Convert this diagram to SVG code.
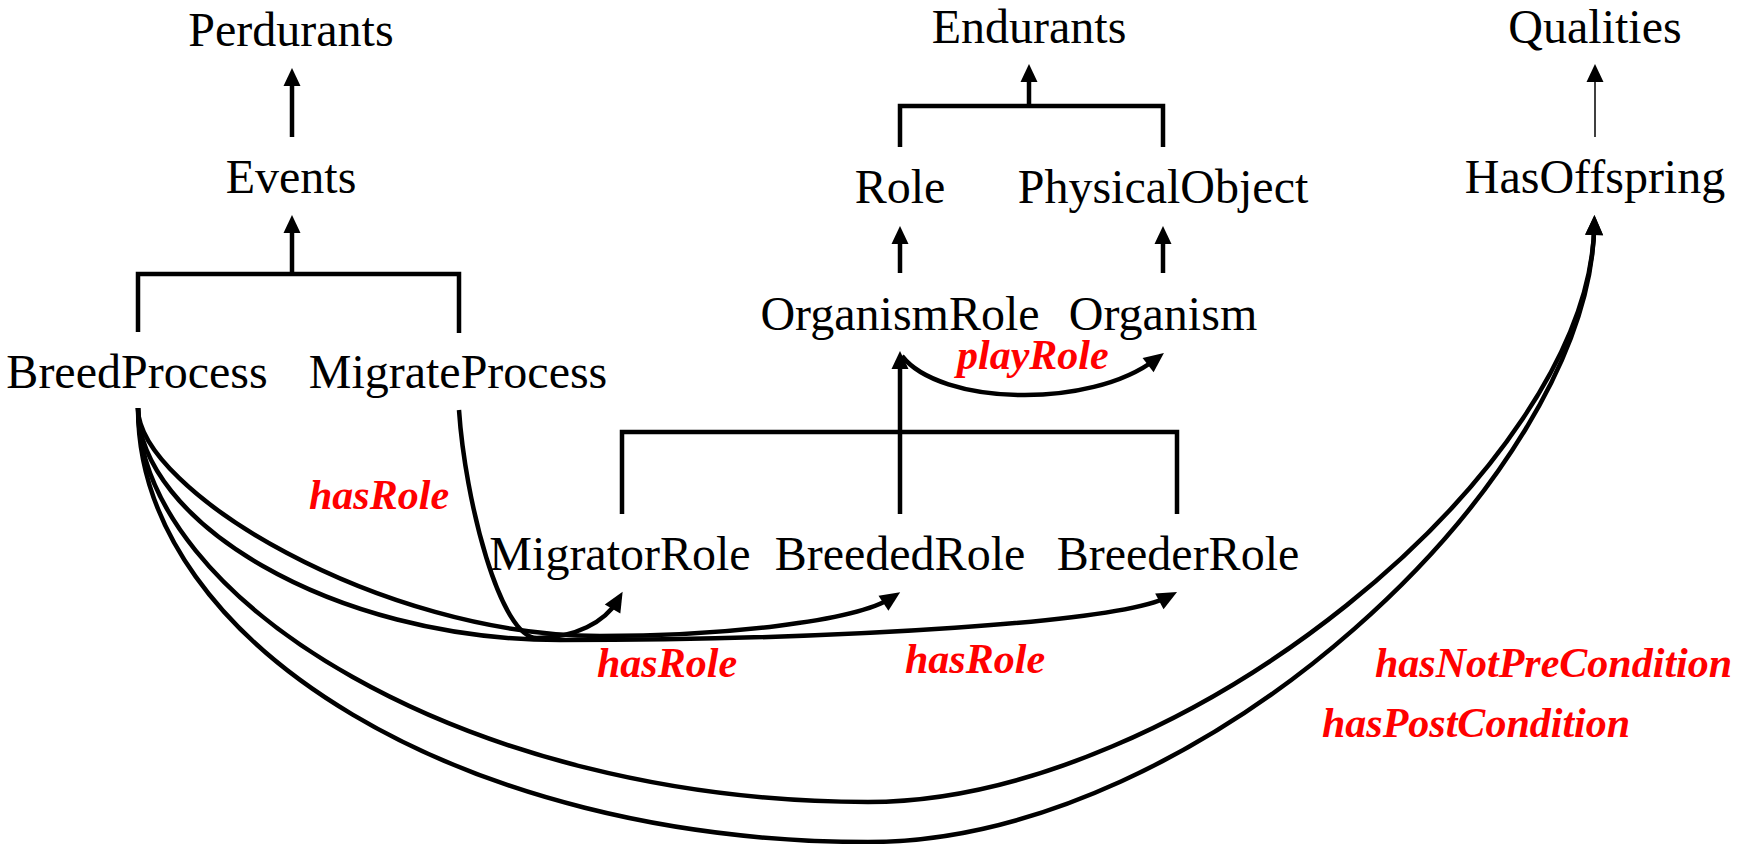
<svg xmlns="http://www.w3.org/2000/svg" width="1753" height="844" viewBox="0 0 1753 844">
<style>
.n{font-family:"Liberation Serif","Times New Roman",serif;font-size:48px;fill:#000;text-anchor:middle}
.l{font-family:"Liberation Serif","Times New Roman",serif;font-size:42px;font-weight:bold;font-style:italic;fill:#ff0000}
.c{fill:none;stroke:#000;stroke-width:4.5}
.t{fill:none;stroke:#000;stroke-width:1.5}
</style>
<defs>
<marker id="ah" markerUnits="userSpaceOnUse" markerWidth="20" markerHeight="18" refX="10" refY="9" orient="auto" overflow="visible">
<path d="M0,0 L20,9 L0,18 z" fill="#000"/>
</marker>
<marker id="ahs" markerUnits="userSpaceOnUse" markerWidth="18" markerHeight="18" refX="8" refY="8.5" orient="auto" overflow="visible">
<path d="M0,0 L18,8.5 L0,17 z" fill="#000"/>
</marker>
</defs>
<rect width="1753" height="844" fill="#fff"/>
<g id="connectors">
<path class="c" d="M292,137 V78" marker-end="url(#ahs)"/>
<path class="c" d="M138,332 V274 H459 V333"/>
<path class="c" d="M292,274 V225" marker-end="url(#ahs)"/>
<path class="c" d="M900,147 V106 H1163 V147"/>
<path class="c" d="M1029,106 V74" marker-end="url(#ahs)"/>
<path class="c" d="M900,273 V236" marker-end="url(#ahs)"/>
<path class="c" d="M1163,273 V236" marker-end="url(#ahs)"/>
<path class="c" d="M622,514 V432 H1177 V514"/>
<path class="c" d="M900,514 V361" marker-end="url(#ahs)"/>
<path class="t" d="M1595,137 V74" marker-end="url(#ahs)"/>
<path class="c" d="M902,356 C940,405 1090,410 1156,359" marker-end="url(#ah)"/>
<path class="c" d="M459,410 C465,500 500,638 537,638 C575,638 605,622 617.6,600.4" marker-end="url(#ah)"/>
<path class="c" d="M138,408 C138,490 380,636 600,636 C720,636 855,622 891.8,597.7" marker-end="url(#ah)"/>
<path class="c" d="M138,408 C138,520 330,640 560,640 C850,640 1120,622 1168.2,596.7" marker-end="url(#ah)"/>
<path class="c" d="M138,408 C138,600 467,802 868,802 C1180,802 1590,470 1594.3,225" marker-end="url(#ah)"/>
<path class="c" d="M138,408 C138,647 467,842 868,842 C1200,842 1590,480 1594.3,225" marker-end="url(#ah)"/>
</g>
<g id="Perdurants"><text class="n" x="291" y="46">Perdurants</text></g>
<g id="Events"><text class="n" x="291" y="193">Events</text></g>
<g id="BreedProcess"><text class="n" x="137" y="388">BreedProcess</text></g>
<g id="MigrateProcess"><text class="n" x="458" y="388">MigrateProcess</text></g>
<g id="Endurants"><text class="n" x="1029" y="43">Endurants</text></g>
<g id="Role"><text class="n" x="900" y="203">Role</text></g>
<g id="PhysicalObject"><text class="n" x="1163" y="203">PhysicalObject</text></g>
<g id="OrganismRole"><text class="n" x="900" y="330">OrganismRole</text></g>
<g id="Organism"><text class="n" x="1163" y="330">Organism</text></g>
<g id="MigratorRole"><text class="n" x="620" y="570">MigratorRole</text></g>
<g id="BreededRole"><text class="n" x="900" y="570">BreededRole</text></g>
<g id="BreederRole"><text class="n" x="1178" y="570">BreederRole</text></g>
<g id="Qualities"><text class="n" x="1595" y="43">Qualities</text></g>
<g id="HasOffspring"><text class="n" x="1595" y="193">HasOffspring</text></g>
<g id="labels">
<text class="l" x="957" y="369">playRole</text>
<text class="l" x="309" y="509">hasRole</text>
<text class="l" x="597" y="677">hasRole</text>
<text class="l" x="905" y="673">hasRole</text>
<text class="l" x="1375" y="677">hasNotPreCondition</text>
<text class="l" x="1322" y="737">hasPostCondition</text>
</g>
</svg>
